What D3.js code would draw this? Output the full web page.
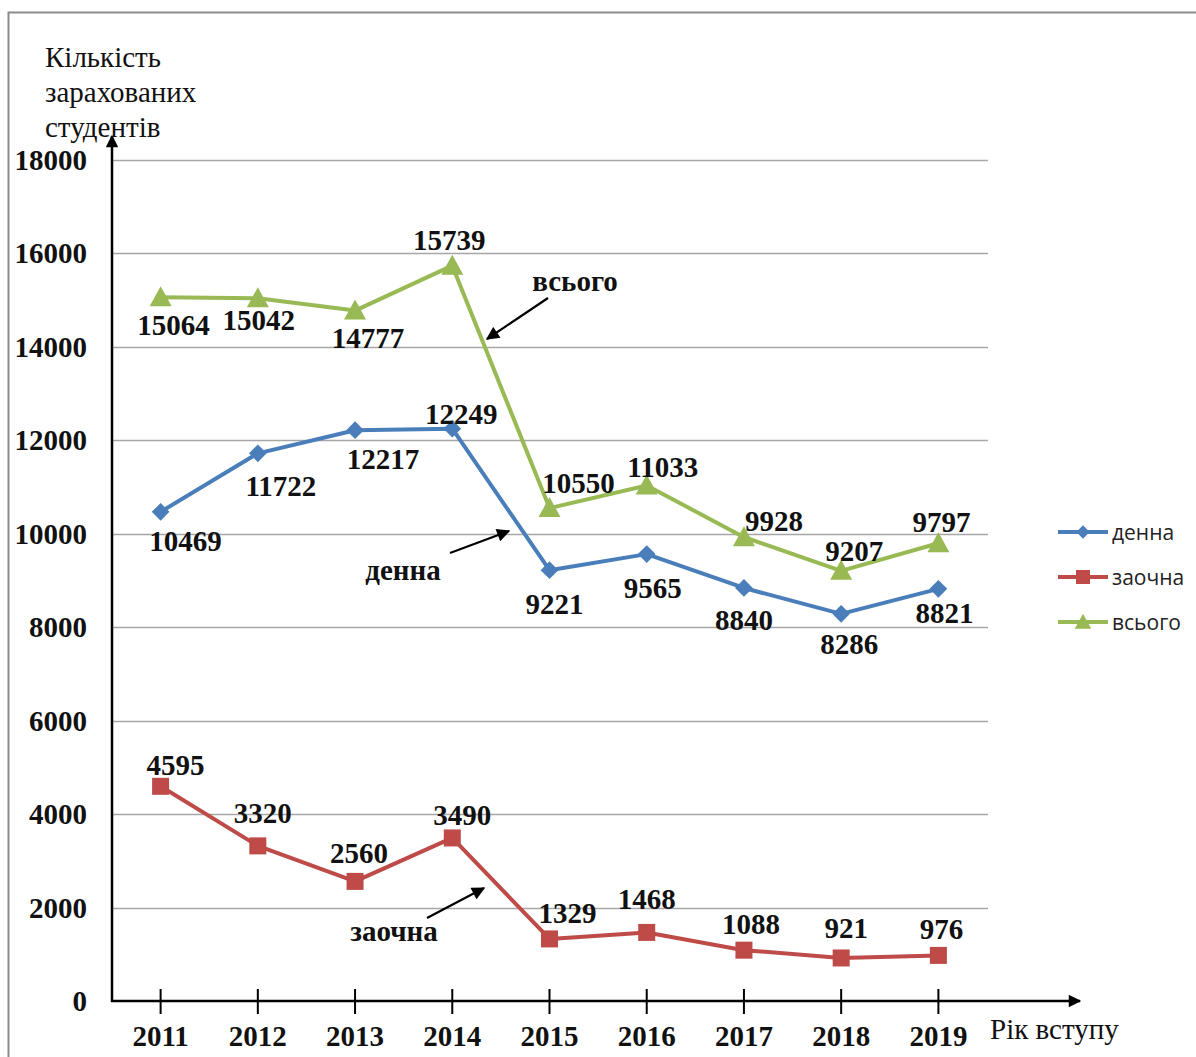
<!DOCTYPE html>
<html>
<head>
<meta charset="utf-8">
<script src="https://cdn.jsdelivr.net/npm/d3@7"></script>
<style>
	body { margin: 0; background: #fff; }
	svg { display: block; }
	.val { font-family: 'Liberation Serif', 'Times New Roman', serif; font-weight: bold; font-size: 29px; fill: #111; }
	.title { font-family: 'Liberation Serif', 'Times New Roman', serif; font-size: 29px; fill: #111; }
	.legend { font-family: 'Open Sans', 'Liberation Sans', sans-serif; font-size: 21px; fill: #222; }
</style>
</head>
<body>
<svg id="chart" width="1196" height="1057"></svg>
<script>
const years = ['2011', '2012', '2013', '2014', '2015', '2016', '2017', '2018', '2019']
const yTicks = [0, 2000, 4000, 6000, 8000, 10000, 12000, 14000, 16000, 18000]

const dennaValues = [10469, 11722, 12217, 12249, 9221, 9565, 8840, 8286, 8821]
const zaochnaValues = [4595, 3320, 2560, 3490, 1329, 1468, 1088, 921, 976]
const vsohoValues = [15064, 15042, 14777, 15739, 10550, 11033, 9928, 9207, 9797]

const seriesNames = ['денна', 'заочна', 'всього']

// label placement: [dx, dy] relative to point
const dennaLabelPos = [[25, 39], [23, 43], [28, 39], [9, -5], [5, 44], [6, 44], [0, 42], [8, 40], [6, 34]]
const zaochnaLabelPos = [[15, -11], [5, -23], [4, -18], [10, -13], [18, -16], [0, -23], [7, -16], [5, -20], [3, -16]]
const vsohoLabelPos = [[13, 38], [1, 32], [13, 37], [-3, -16], [29, -15], [16, -9], [30, -6], [13, -10], [3, -11]]

const series = [
	{ name: seriesNames[0], values: dennaValues, color: '#4A7EBB', marker: 'diamond', labels: dennaLabelPos },
	{ name: seriesNames[1], values: zaochnaValues, color: '#BE4B48', marker: 'square', labels: zaochnaLabelPos },
	{ name: seriesNames[2], values: vsohoValues, color: '#98B954', marker: 'triangle', labels: vsohoLabelPos }
]

const svg = d3.select('#chart')

const x0 = 112
const x1 = 987
const yBottom = 1001
const yTop = 160

const scaleX = d3.scaleBand().domain(years).range([x0, x1])
const scaleY = d3.scaleLinear().domain([0, 18000]).range([yBottom, yTop])
const cx = d => scaleX(d) + scaleX.bandwidth() / 2

// outer frame
svg.append('rect')
	.attr('x', 8.5).attr('y', 12.5)
	.attr('width', 1200).attr('height', 1060)
	.attr('fill', 'none')
	.attr('stroke', '#8c8c8c')
	.attr('stroke-width', 2)

// arrow markers
const defs = svg.append('defs')
defs.append('marker')
	.attr('id', 'arrow')
	.attr('viewBox', '0 0 10 10')
	.attr('refX', 9).attr('refY', 5)
	.attr('markerWidth', 5.5).attr('markerHeight', 5)
	.attr('markerUnits', 'strokeWidth')
	.attr('orient', 'auto')
	.append('path')
	.attr('d', 'M0,0 L10,5 L0,10 Z')
	.attr('fill', '#000')

defs.append('marker')
	.attr('id', 'arrowSmall')
	.attr('viewBox', '0 0 10 10')
	.attr('refX', 9).attr('refY', 5)
	.attr('markerWidth', 6.5).attr('markerHeight', 6)
	.attr('markerUnits', 'strokeWidth')
	.attr('orient', 'auto')
	.append('path')
	.attr('d', 'M0,0 L10,5 L0,10 Z')
	.attr('fill', '#000')

// gridlines
svg.append('g')
	.selectAll('line')
	.data(yTicks.filter(d => d > 0))
	.enter().append('line')
	.attr('x1', x0).attr('x2', 988)
	.attr('y1', d => Math.round(scaleY(d)) + 0.5)
	.attr('y2', d => Math.round(scaleY(d)) + 0.5)
	.attr('stroke', '#a6a6a6')
	.attr('stroke-width', 1.3)

// y tick labels
svg.append('g')
	.selectAll('text')
	.data(yTicks)
	.enter().append('text')
	.attr('class', 'val')
	.attr('x', 87)
	.attr('y', d => scaleY(d) + 10)
	.attr('text-anchor', 'end')
	.text(d => d)

// y axis
svg.append('line')
	.attr('x1', x0).attr('x2', x0)
	.attr('y1', yBottom + 1).attr('y2', 136)
	.attr('stroke', '#000')
	.attr('stroke-width', 2.5)
	.attr('marker-end', 'url(#arrow)')

// x axis
svg.append('line')
	.attr('x1', x0 - 1).attr('x2', 1080)
	.attr('y1', yBottom).attr('y2', yBottom)
	.attr('stroke', '#000')
	.attr('stroke-width', 2.5)
	.attr('marker-end', 'url(#arrow)')

const xt = svg.append('g')
	.selectAll('g')
	.data(years)
	.enter().append('g')
	.attr('transform', d => `translate(${cx(d)}, ${yBottom})`)

xt.append('line')
	.attr('y1', -12).attr('y2', 13)
	.attr('stroke', '#000')
	.attr('stroke-width', 2)

xt.append('text')
	.attr('class', 'val')
	.attr('y', 45)
	.attr('text-anchor', 'middle')
	.text(d => d)

// axis titles
const yTitle = svg.append('text')
	.attr('class', 'title')
	.attr('x', 45)
	.attr('y', 67)
yTitle.selectAll('tspan')
	.data(['Кількість', 'зарахованих', 'студентів'])
	.enter().append('tspan')
	.attr('x', 45)
	.attr('dy', (d, i) => i === 0 ? 0 : 35)
	.text(d => d)

svg.append('text')
	.attr('class', 'title')
	.attr('x', 990)
	.attr('y', 1039)
	.text('Рік вступу')

// markers
function drawMarker(sel, type, color, size) {
	if (type === 'diamond') {
		sel.append('path')
			.attr('d', d3.symbol(d3.symbolDiamond2, size * size * 0.5)())
			.attr('fill', color)
	} else if (type === 'square') {
		sel.append('rect')
			.attr('x', -size / 2).attr('y', -size / 2)
			.attr('width', size).attr('height', size)
			.attr('fill', color)
	} else {
		sel.append('path')
			.attr('d', `M0,${-size * 0.55} L${size * 0.55},${size * 0.45} L${-size * 0.55},${size * 0.45} Z`)
			.attr('fill', color)
	}
}

const line = d3.line()
	.x((d, i) => cx(years[i]))
	.y(d => scaleY(d))

series.forEach(s => {
	const g = svg.append('g')
	g.append('path')
		.datum(s.values)
		.attr('d', line)
		.attr('fill', 'none')
		.attr('stroke', s.color)
		.attr('stroke-width', 4)
		.attr('stroke-linejoin', 'round')

	const pts = g.selectAll('.pt')
		.data(s.values)
		.enter().append('g')
		.attr('class', 'pt')
		.attr('transform', (d, i) => `translate(${cx(years[i])}, ${scaleY(d)})`)
	drawMarker(pts, s.marker, s.color, s.marker === 'square' ? 17 : 20)

	g.selectAll('.lbl')
		.data(s.values)
		.enter().append('text')
		.attr('class', 'val')
		.attr('text-anchor', 'middle')
		.attr('x', (d, i) => cx(years[i]) + s.labels[i][0])
		.attr('y', (d, i) => scaleY(d) + s.labels[i][1])
		.text(d => d)
})

// annotations with arrows
const notes = [
	{ text: seriesNames[2], tx: 575, ty: 291, from: [548, 298], to: [487, 339] },
	{ text: seriesNames[0], tx: 403, ty: 580, from: [450, 553], to: [509, 531] },
	{ text: seriesNames[1], tx: 394, ty: 941, from: [427, 918], to: [484, 888] }
]

notes.forEach(n => {
	svg.append('text')
		.attr('class', 'val')
		.attr('x', n.tx).attr('y', n.ty)
		.attr('text-anchor', 'middle')
		.style('font-size', '29px')
		.text(n.text)
	svg.append('line')
		.attr('x1', n.from[0]).attr('y1', n.from[1])
		.attr('x2', n.to[0]).attr('y2', n.to[1])
		.attr('stroke', '#000')
		.attr('stroke-width', 2.2)
		.attr('marker-end', 'url(#arrowSmall)')
})

// legend
const legend = svg.append('g')
	.selectAll('g')
	.data(series)
	.enter().append('g')
	.attr('transform', (d, i) => `translate(1058, ${532 + i * 45})`)

legend.append('line')
	.attr('x1', 0).attr('x2', 50)
	.attr('stroke', d => d.color)
	.attr('stroke-width', 4)

legend.append('g')
	.attr('transform', 'translate(25, 0)')
	.each(function (d) {
		drawMarker(d3.select(this), d.marker, d.color, d.marker === 'square' ? 14 : 15)
	})

legend.append('text')
	.attr('class', 'legend')
	.attr('x', 54)
	.attr('y', 8)
	.text(d => d.name)
</script>
</body>
</html>
